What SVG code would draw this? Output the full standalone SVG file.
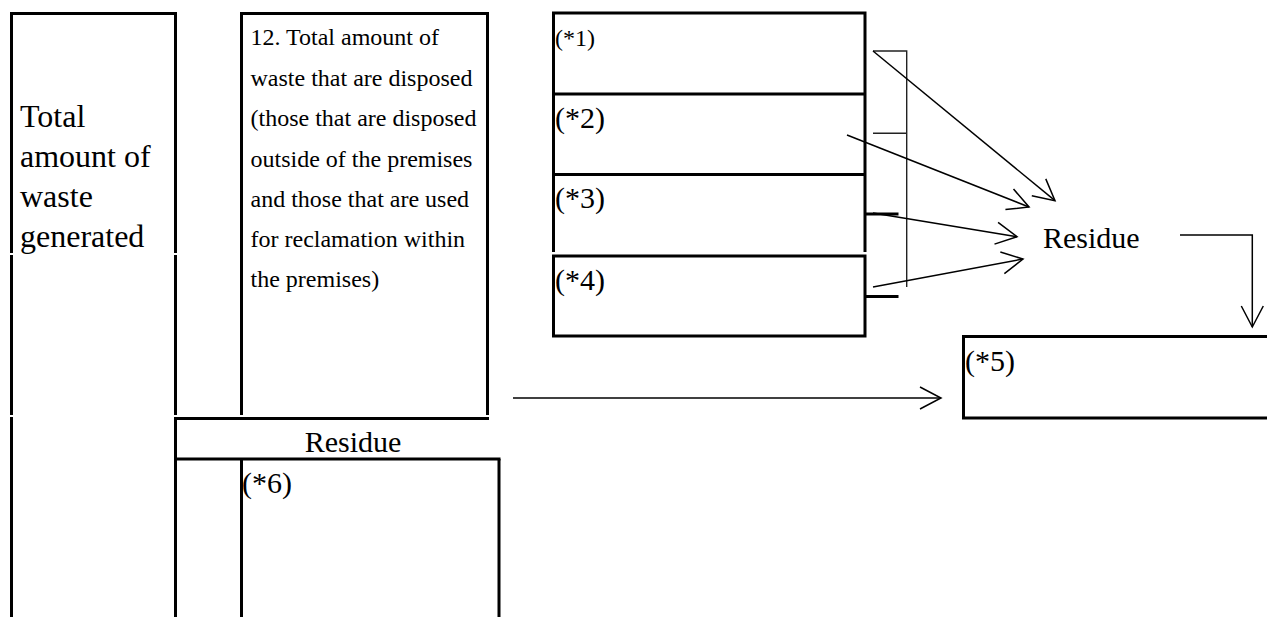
<svg xmlns="http://www.w3.org/2000/svg" width="1267" height="617" viewBox="0 0 1267 617">
<style>
.thick{stroke:#000;stroke-width:3;fill:none}
.thin{stroke:#222;stroke-width:1.4;fill:none}
.conn{stroke:#000;stroke-width:1.5;fill:none}
text{font-family:"Liberation Serif","Times New Roman",serif;fill:#000}
.big{font-size:32px}
.small{font-size:24px}
.mid{font-size:30px}
</style>
<defs>
<marker id="arr" markerUnits="userSpaceOnUse" viewBox="-26 -14 28 28" markerWidth="28" markerHeight="28" refX="0" refY="0" orient="auto" overflow="visible">
<path d="M-21,-11 L0,0 L-21,11" stroke="#000" stroke-width="1.5" fill="none"/>
</marker>
</defs>
<rect width="1267" height="617" fill="#fff"/>

<g id="total-generated">
<path class="thick" d="M10,13.5 H176.5"/>
<path class="thick" d="M11.5,12 V253 M11.5,255 V415 M11.5,417 V617"/>
<path class="thick" d="M175.5,12 V253 M175.5,255 V415 M175.5,417 V617"/>
<text class="big" x="20" y="127">Total</text>
<text class="big" x="20" y="167">amount of</text>
<text class="big" x="20" y="207">waste</text>
<text class="big" x="20" y="247">generated</text>
</g>

<g id="disposed-total">
<path class="thick" d="M240,13.5 H489 M241.5,12 V415 M487.5,12 V415"/>
<text class="small" x="250.5" y="45">12. Total amount of</text>
<text class="small" x="250.5" y="86">waste that are disposed</text>
<text class="small" x="250.5" y="126">(those that are disposed</text>
<text class="small" x="250.5" y="167">outside of the premises</text>
<text class="small" x="250.5" y="207">and those that are used</text>
<text class="small" x="250.5" y="247">for reclamation within</text>
<text class="small" x="250.5" y="287">the premises)</text>
</g>

<g id="residue-row">
<path class="thick" d="M174,418.5 H489 M174,459 H500.5"/>
<text class="mid" x="353" y="451.5" text-anchor="middle">Residue</text>
</g>

<g id="box6">
<path class="thick" d="M241.5,459 V617 M499,459 V617"/>
<text class="mid" x="242" y="493">(*6)</text>
</g>

<g id="boxes1-4">
<path class="thick" d="M552,13 H866.5 M553.5,12 V252 M553.5,254.5 V337.5 M865,12 V252 M865,254.5 V337.5 M552,336 H866.5 M552,94 H866.5 M552,174.5 H866.5 M552,256 H866.5"/>
<text class="small" x="555" y="45.5">(*1)</text>
<text class="mid" x="555" y="127.5">(*2)</text>
<text class="mid" x="555" y="207.5">(*3)</text>
<text class="mid" x="555" y="289.5">(*4)</text>
<path class="thick" d="M865,214 H898.5 M865,296.5 H898.5"/>
<path class="thin" d="M873,51 H906.7 V287 M873,133.3 H906.7"/>
</g>

<g id="residue-label">
<text class="mid" x="1043" y="248">Residue</text>
</g>

<g id="box5">
<path class="thick" d="M962,336.5 H1267 M962,418 H1267 M963.5,335 V418"/>
<text class="mid" x="965" y="371">(*5)</text>
</g>

<g id="connectors">
<path class="conn" d="M873,51 L1055,200.7" marker-end="url(#arr)"/>
<path class="conn" d="M847,135 L1029,207" marker-end="url(#arr)"/>
<path class="conn" d="M873,213 L1017,236.7" marker-end="url(#arr)"/>
<path class="conn" d="M873,287 L1023,259" marker-end="url(#arr)"/>
<path class="conn" d="M1180,235 H1252.3 V327" marker-end="url(#arr)"/>
<path class="conn" d="M513,398 H941" marker-end="url(#arr)"/>
</g>
</svg>
